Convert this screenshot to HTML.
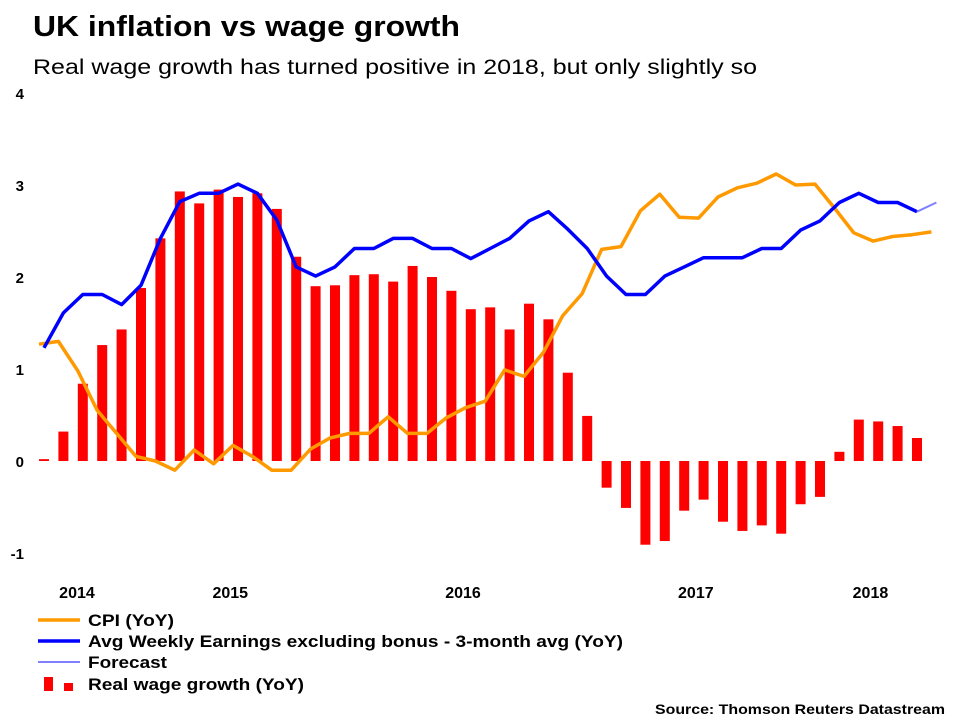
<!DOCTYPE html>
<html><head><meta charset="utf-8"><style>
body{margin:0;background:#fff;}
svg{display:block;font-family:"Liberation Sans",Arial,sans-serif;}
</style></head><body>
<svg id="chart" width="960" height="720" viewBox="0 0 960 720">
<text x="33" y="36" font-size="29" font-weight="bold" textLength="427" lengthAdjust="spacingAndGlyphs">UK inflation vs wage growth</text>
<text x="33" y="74" font-size="21" textLength="724" lengthAdjust="spacingAndGlyphs">Real wage growth has turned positive in 2018, but only slightly so</text>
<g id="yaxis"></g>
<g id="xaxis"></g>
<g id="bars"></g>
<g id="lines"></g>
<g font-size="17" font-weight="bold">
 <g><line x1="38" y1="620" x2="80" y2="620" stroke="#FF9900" stroke-width="3.5"/><text x="88" y="626" textLength="86" lengthAdjust="spacingAndGlyphs">CPI (YoY)</text></g>
 <g><line x1="38" y1="641" x2="80" y2="641" stroke="#0000FF" stroke-width="3.5"/><text x="88" y="647" textLength="535" lengthAdjust="spacingAndGlyphs">Avg Weekly Earnings excluding bonus - 3-month avg (YoY)</text></g>
 <g><line x1="38" y1="662" x2="80" y2="662" stroke="#8080FF" stroke-width="2"/><text x="88" y="668" textLength="79" lengthAdjust="spacingAndGlyphs">Forecast</text></g>
 <g><rect x="44" y="677" width="9" height="14" fill="#FF0000"/><rect x="64" y="683" width="9" height="8" fill="#FF0000"/><text x="88" y="690" textLength="216" lengthAdjust="spacingAndGlyphs">Real wage growth (YoY)</text></g>
</g>
<text x="945" y="714" font-size="14" font-weight="bold" text-anchor="end" textLength="290" lengthAdjust="spacingAndGlyphs">Source: Thomson Reuters Datastream</text>
</svg>
<script>
const realWage=[0.02,0.32,0.84,1.26,1.43,1.88,2.42,2.93,2.80,2.95,2.87,2.91,2.74,2.22,1.90,1.91,2.02,2.03,1.95,2.12,2.00,1.85,1.65,1.67,1.43,1.71,1.54,0.96,0.49,-0.29,-0.51,-0.91,-0.87,-0.54,-0.42,-0.66,-0.76,-0.70,-0.79,-0.47,-0.39,0.10,0.45,0.43,0.38,0.25];
const cpi=[1.27,1.30,0.98,0.55,0.30,0.05,0.00,-0.10,0.12,-0.03,0.17,0.05,-0.10,-0.10,0.13,0.25,0.30,0.30,0.48,0.30,0.30,0.47,0.58,0.65,0.99,0.92,1.18,1.58,1.82,2.30,2.33,2.72,2.90,2.65,2.64,2.87,2.97,3.02,3.12,3.00,3.01,2.75,2.48,2.39,2.44,2.46,2.49];
const earnings=[1.23,1.61,1.81,1.81,1.70,1.91,2.42,2.82,2.91,2.91,3.01,2.91,2.62,2.11,2.01,2.11,2.31,2.31,2.42,2.42,2.31,2.31,2.20,2.31,2.42,2.61,2.71,2.52,2.31,2.01,1.81,1.81,2.01,2.11,2.21,2.21,2.21,2.31,2.31,2.51,2.61,2.81,2.91,2.81,2.81,2.71];
const forecast=[2.71,2.81];
const forecastStart=45;
const yTicks=[4,3,2,1,0,-1];
const yearLabels=["2014","2015","2016","2017","2018"];
const yearPos=[1.7,9.6,21.6,33.6,42.6];
const NS="http://www.w3.org/2000/svg";
const y=v=>461-v*92;
const bx=i=>44+i*19.4;
function mk(t,attrs,parent){const e=document.createElementNS(NS,t);for(const k in attrs)e.setAttribute(k,attrs[k]);parent.appendChild(e);return e;}
const ya=document.getElementById('yaxis');
yTicks.forEach(v=>{const t=mk('text',{x:24,y:y(v)+6,'font-size':15,'font-weight':'bold','text-anchor':'end'},ya);t.textContent=v;

});
const xa=document.getElementById('xaxis');
yearLabels.forEach((s,k)=>{const t=mk('text',{x:bx(yearPos[k]),y:598,'font-size':16,'font-weight':'bold','text-anchor':'middle'},xa);t.textContent=s;

});
const bg=document.getElementById('bars');
realWage.forEach((v,i)=>{const top=Math.min(y(v),y(0)),h=Math.max(Math.abs(y(v)-y(0)),1.5);
const r=mk('rect',{x:bx(i)-5,y:top,width:10,height:h,fill:'#FF0000'},bg);

});
const lg=document.getElementById('lines');
function line(arr,off,color,w,name,xf){const pts=arr.map((v,i)=>xf(i+off).toFixed(1)+','+y(v).toFixed(1)).join(' ');
const p=mk('polyline',{points:pts,fill:'none',stroke:color,'stroke-width':w,'stroke-linejoin':'round'},lg);

}
line(cpi,0,'#FF9900',3.5,'cpi-line',i=>39+i*19.4);
line(earnings,0,'#0000FF',3.5,'earnings-line',bx);
line(forecast,forecastStart,'#8080FF',2,'forecast-line',bx);
</script>
</body></html>
